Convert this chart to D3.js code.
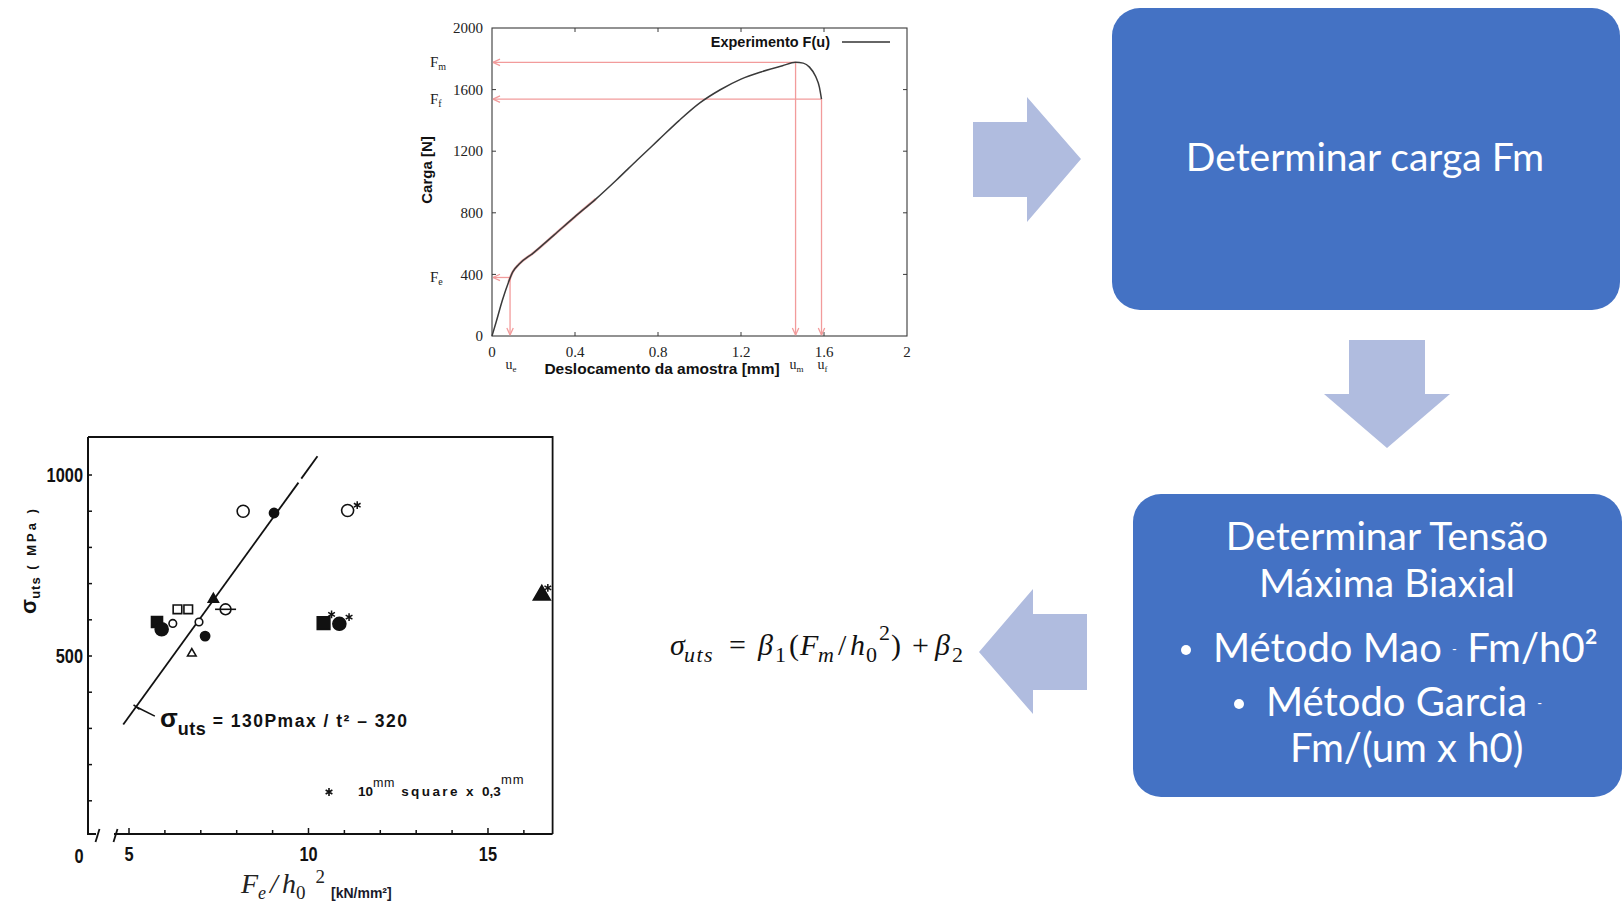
<!DOCTYPE html>
<html>
<head>
<meta charset="utf-8">
<script src="https://cdn.jsdelivr.net/npm/d3@7"></script>
<style>
  body { margin: 0; background: #fff; }
  svg { display: block; }
</style>
</head>
<body>
<svg id="slide" width="1623" height="910"></svg>
<script>
// ---------- Load–displacement curve (u in mm, F in N) ----------
const curveU = [0, 0.02, 0.05, 0.08, 0.1, 0.13, 0.2, 0.3, 0.4, 0.5, 0.6, 0.7, 0.8, 0.9, 1.0, 1.1, 1.2, 1.3, 1.4, 1.463, 1.5, 1.53, 1.56, 1.578, 1.588];
const curveF = [0, 91, 232, 351, 416, 466, 540, 657, 775, 889, 1013, 1143, 1270, 1397, 1512, 1599, 1668, 1716, 1755, 1777, 1772, 1746, 1685, 1615, 1538];
const uTicks = [0, 0.4, 0.8, 1.2, 1.6, 2];
const fTicks = [0, 400, 800, 1200, 1600, 2000];
// characteristic points: elastic (e), maximum (m), fracture (f)
const keyNames = ["e", "m", "f"];
const keyU = [0.087, 1.463, 1.588];
const keyF = [380, 1777, 1538];

// ---------- sigma_uts vs Fe/h0^2 scatter ----------
const ptX = [8.18, 9.04, 11.09, 7.35, 7.69, 6.35, 6.65, 5.78, 5.91, 6.22, 6.95, 7.12, 6.75, 10.42, 10.86, 16.5];
const ptY = [900, 895, 902, 657, 629, 629, 629, 594, 574, 590, 594, 555, 507, 591, 589, 668];
const ptKind = ["openL", "dotM", "openL", "triS", "theta", "sqOpen", "sqOpen", "sqFill", "dotL", "openS", "openS", "dotM", "triOpen", "sqFillL", "dotL", "triL"];
const ptStar = [false, false, true, false, false, false, false, false, false, false, false, false, false, true, true, true];
const fitSolidX = [4.84, 9.72], fitSolidY = [311, 979];
const fitDashX = [9.8, 10.25], fitDashY = [990, 1052];
const sTicksMajor = [500, 1000];
const sTicksMinor = [100, 200, 300, 400, 600, 700, 800, 900];
const pTicks = [5, 6, 7, 8, 9, 10, 11, 12, 13, 14, 15, 16];
const pTickLabels = [5, 10, 15];

const svg = d3.select("#slide");

// ================= Top chart: load vs displacement =================
const xT = d3.scaleLinear().domain([0, 2]).range([492, 907]);
const yT = d3.scaleLinear().domain([0, 2000]).range([336, 28]);
const topG = svg.append("g");
const frameCol = "#3a3a3a";
const redCol = "#f29b9b";

const defs = svg.append("defs");
defs.append("marker").attr("id", "redHead")
  .attr("viewBox", "-8 -5 10 10").attr("markerWidth", 10).attr("markerHeight", 10)
  .attr("markerUnits", "userSpaceOnUse").attr("orient", "auto")
  .append("path").attr("d", "M0,0 L-7,-3.2 M0,0 L-7,3.2")
  .attr("fill", "none").attr("stroke", redCol).attr("stroke-width", 1.3);

// frame
topG.append("rect").attr("x", xT(0)).attr("y", yT(2000))
  .attr("width", xT(2) - xT(0)).attr("height", yT(0) - yT(2000))
  .attr("fill", "none").attr("stroke", frameCol).attr("stroke-width", 1.1);

// inward ticks on all four sides
const tl = 4;
topG.selectAll(".xtb").data(uTicks.slice(1, -1)).join("line")
  .attr("x1", d => xT(d)).attr("x2", d => xT(d)).attr("y1", yT(0)).attr("y2", yT(0) - tl)
  .attr("stroke", frameCol);
topG.selectAll(".xtt").data(uTicks.slice(1, -1)).join("line")
  .attr("x1", d => xT(d)).attr("x2", d => xT(d)).attr("y1", yT(2000)).attr("y2", yT(2000) + tl)
  .attr("stroke", frameCol);
topG.selectAll(".ytl").data(fTicks.slice(1, -1)).join("line")
  .attr("y1", d => yT(d)).attr("y2", d => yT(d)).attr("x1", xT(0)).attr("x2", xT(0) + tl)
  .attr("stroke", frameCol);
topG.selectAll(".ytr").data(fTicks.slice(1, -1)).join("line")
  .attr("y1", d => yT(d)).attr("y2", d => yT(d)).attr("x1", xT(2)).attr("x2", xT(2) - tl)
  .attr("stroke", frameCol);

// tick labels
const serif = "'Liberation Serif', 'Times New Roman', serif";
topG.selectAll(".ytxt").data(fTicks).join("text")
  .attr("x", xT(0) - 9).attr("y", d => yT(d)).attr("dy", "0.35em")
  .attr("text-anchor", "end").attr("font-family", serif).attr("font-size", 15).attr("fill", "#222")
  .text(d => d);
topG.selectAll(".xtxt").data(uTicks).join("text")
  .attr("x", d => xT(d)).attr("y", 357)
  .attr("text-anchor", "middle").attr("font-family", serif).attr("font-size", 15).attr("fill", "#222")
  .text(d => d);

// axis titles
const sansB = "'Liberation Sans', Arial, sans-serif";
topG.append("text").attr("transform", "translate(427,170) rotate(-90)")
  .attr("text-anchor", "middle").attr("dy", "0.35em")
  .attr("font-family", sansB).attr("font-weight", "bold").attr("font-size", 15).attr("fill", "#111")
  .text("Carga [N]");
topG.append("text").attr("x", 662).attr("y", 374).attr("text-anchor", "middle")
  .attr("font-family", sansB).attr("font-weight", "bold").attr("font-size", 15.5).attr("fill", "#111")
  .text("Deslocamento da amostra [mm]");

// legend
topG.append("text").attr("x", 830).attr("y", 46.5).attr("text-anchor", "end")
  .attr("font-family", sansB).attr("font-weight", "bold").attr("font-size", 14.5).attr("fill", "#111")
  .text("Experimento F(u)");
topG.append("line").attr("x1", 842).attr("x2", 890).attr("y1", 42).attr("y2", 42)
  .attr("stroke", "#333").attr("stroke-width", 1.3);

// red guide lines at the characteristic points
keyNames.forEach((k, i) => {
  topG.append("line")
    .attr("x1", xT(keyU[i])).attr("y1", yT(keyF[i]))
    .attr("x2", xT(0) + 1).attr("y2", yT(keyF[i]))
    .attr("stroke", redCol).attr("stroke-width", 1.3).attr("marker-end", "url(#redHead)");
  topG.append("line")
    .attr("x1", xT(keyU[i])).attr("y1", yT(keyF[i]))
    .attr("x2", xT(keyU[i])).attr("y2", yT(0) - 1)
    .attr("stroke", redCol).attr("stroke-width", 1.3).attr("marker-end", "url(#redHead)");
  // F_k label on the left
  const fl = topG.append("text").attr("x", 430).attr("y", yT(keyF[i]) + 5)
    .attr("font-family", serif).attr("font-size", 15).attr("fill", "#222");
  fl.append("tspan").text("F");
  fl.append("tspan").attr("font-size", 10).attr("dy", 3).text(k);
  // u_k label under the axis
  const ul = topG.append("text").attr("x", xT(keyU[i]) + 1).attr("y", 369)
    .attr("text-anchor", "middle")
    .attr("font-family", serif).attr("font-size", 14).attr("fill", "#222");
  ul.append("tspan").text("u");
  ul.append("tspan").attr("font-size", 9).attr("dy", 3).text(k);
});

// measured curve (with faint red linear-fit overlay in the elastic–plastic zone)
const pts = curveU.map((u, i) => ({ u, F: curveF[i] }));
const lineT = d3.line().x(d => xT(d.u)).y(d => yT(d.F)).curve(d3.curveMonotoneX);
topG.append("path").datum(pts.filter(d => d.u >= 0.08 && d.u <= 0.5))
  .attr("d", lineT).attr("fill", "none").attr("stroke", "#f08080").attr("stroke-width", 2.6).attr("opacity", 0.6);
topG.append("path").datum(pts)
  .attr("d", lineT).attr("fill", "none").attr("stroke", "#3a3a3a").attr("stroke-width", 1.5);

// ================= Bottom chart: sigma_uts vs Fe/h0^2 =================
const xB = d3.scaleLinear().domain([5, 16.8]).range([129, 552.6]);
const yB = d3.scaleLinear().domain([0, 1105]).range([837, 437]);
const bot = svg.append("g");
const ink = "#111";
const axisY = 834;

// condensed bold label (narrow typewriter-like figures)
function narrowLabel(x, y, txt, anchor) {
  bot.append("text").attr("transform", `translate(${x},${y}) scale(0.84,1)`)
    .attr("dy", "0.36em").attr("text-anchor", anchor)
    .attr("font-family", sansB).attr("font-weight", "bold").attr("font-size", 19.5).attr("fill", ink)
    .text(txt);
}

// frame: left axis, top, right, broken bottom axis
bot.append("path")
  .attr("d", `M88,${yB(1105)} L88,${axisY} L96,${axisY}`)
  .attr("fill", "none").attr("stroke", ink).attr("stroke-width", 2);
bot.append("path")
  .attr("d", `M88,${yB(1105)} L${xB(16.8)},${yB(1105)} L${xB(16.8)},${axisY}`)
  .attr("fill", "none").attr("stroke", ink).attr("stroke-width", 1.8);
bot.append("line").attr("x1", 114).attr("x2", xB(16.8)).attr("y1", axisY).attr("y2", axisY)
  .attr("stroke", ink).attr("stroke-width", 2);
[98, 116].forEach(x => {
  bot.append("line").attr("x1", x - 2.5).attr("y1", axisY + 8).attr("x2", x + 1.5).attr("y2", axisY - 5)
    .attr("stroke", ink).attr("stroke-width", 1.8);
});

// ticks
bot.selectAll(".bxt").data(pTicks).join("line")
  .attr("x1", d => xB(d)).attr("x2", d => xB(d)).attr("y1", axisY).attr("y2", d => axisY - (d % 5 === 0 ? 6 : 4))
  .attr("stroke", ink).attr("stroke-width", 1.5);
bot.selectAll(".byt").data(sTicksMinor.concat(sTicksMajor)).join("line")
  .attr("y1", d => yB(d)).attr("y2", d => yB(d)).attr("x1", 88).attr("x2", 92)
  .attr("stroke", ink).attr("stroke-width", 1.5);

// tick labels
sTicksMajor.forEach(v => narrowLabel(83, yB(v), v, "end"));
pTickLabels.forEach(v => narrowLabel(xB(v), 854, v, "middle"));
narrowLabel(79, 856, "0", "middle");

// y title
const yTitle = bot.append("text").attr("transform", "translate(30,560) rotate(-90)")
  .attr("text-anchor", "middle").attr("dy", "0.35em")
  .attr("font-family", sansB).attr("font-weight", "bold").attr("fill", ink);
yTitle.append("tspan").attr("font-size", 22).text("σ");
yTitle.append("tspan").attr("font-size", 13).attr("dy", 4).attr("letter-spacing", 1).text("uts");
yTitle.append("tspan").attr("font-size", 13).attr("dy", -4).attr("letter-spacing", 3).text(" ( MPa )");

// x title: Fe / h0^2 [kN/mm²]
const mathFont = "'Liberation Serif', 'DejaVu Serif', serif";
const xTitle = bot.append("text").attr("x", 241).attr("y", 893)
  .attr("font-family", mathFont).attr("font-style", "italic").attr("font-size", 28).attr("fill", "#222");
xTitle.append("tspan").text("F");
xTitle.append("tspan").attr("font-size", 18).attr("dy", 6).text("e");
xTitle.append("tspan").attr("dy", -6).attr("dx", 4).text("/");
xTitle.append("tspan").attr("dx", 4).text("h");
xTitle.append("tspan").attr("font-size", 19).attr("font-style", "normal").attr("dy", 6).text("0");
xTitle.append("tspan").attr("font-size", 19).attr("font-style", "normal").attr("dy", -16).attr("dx", 10).text("2");
bot.append("text").attr("x", 331).attr("y", 898)
  .attr("font-family", sansB).attr("font-weight", "bold").attr("font-size", 14).attr("fill", "#1a1a2a")
  .text("[kN/mm²]");

// regression line (solid, then dashed extension)
bot.append("line")
  .attr("x1", xB(fitSolidX[0])).attr("y1", yB(fitSolidY[0]))
  .attr("x2", xB(fitSolidX[1])).attr("y2", yB(fitSolidY[1]))
  .attr("stroke", ink).attr("stroke-width", 1.8);
bot.append("line")
  .attr("x1", xB(fitDashX[0])).attr("y1", yB(fitDashY[0]))
  .attr("x2", xB(fitDashX[1])).attr("y2", yB(fitDashY[1]))
  .attr("stroke", ink).attr("stroke-width", 1.8);

// leader and equation label
const lead = { x0: 5.21, y0: 359, x1: 5.72, y1: 334 };
bot.append("line").attr("x1", xB(lead.x0)).attr("y1", yB(lead.y0)).attr("x2", xB(lead.x1)).attr("y2", yB(lead.y1))
  .attr("stroke", ink).attr("stroke-width", 1.6);
bot.append("line").attr("x1", xB(lead.x0) - 3).attr("y1", yB(lead.y0) - 2.2).attr("x2", xB(lead.x0) + 3).attr("y2", yB(lead.y0) + 2.2)
  .attr("stroke", ink).attr("stroke-width", 1.6);
const eq = bot.append("text").attr("x", 160).attr("y", 727)
  .attr("font-family", sansB).attr("font-weight", "bold").attr("fill", ink);
eq.append("tspan").attr("font-size", 26).text("σ");
eq.append("tspan").attr("font-size", 18).attr("dy", 8).attr("letter-spacing", 0.5).text("uts");
eq.append("tspan").attr("font-size", 17.5).attr("dy", -8).attr("letter-spacing", 1.5).text(" = 130Pmax / t² – 320");

// markers
const styles = {
  openL:   { type: d3.symbolCircle,   r: 6,   fill: false, sdx: 9.6, sdy: -5.3 },
  openS:   { type: d3.symbolCircle,   r: 3.8, fill: false },
  dotM:    { type: d3.symbolCircle,   r: 4.6, fill: true },
  dotL:    { type: d3.symbolCircle,   r: 6.5, fill: true, sdx: 9.7, sdy: -6.7 },
  triS:    { type: d3.symbolTriangle, r: 4.5, fill: true },
  triOpen: { type: d3.symbolTriangle, r: 3.8, fill: false },
  triL:    { type: d3.symbolTriangle, r: 7.5, fill: true, sdx: 6, sdy: -7.3 },
  sqOpen:  { type: d3.symbolSquare,   r: 4.3, fill: false },
  sqFill:  { type: d3.symbolSquare,   r: 5.5, fill: true },
  sqFillL: { type: d3.symbolSquare,   r: 6.3, fill: true, sdx: 8, sdy: -8.7 },
  theta:   { type: d3.symbolCircle,   r: 5.4, fill: false }
};
function symArea(s) {
  if (s.type === d3.symbolCircle) return Math.PI * s.r * s.r;
  if (s.type === d3.symbolSquare) return (2 * s.r) * (2 * s.r);
  return (2 * s.r) * (2 * s.r) * 0.55;
}
const star = d3.symbol(d3.symbolAsterisk, 42);
ptX.forEach((x, i) => {
  const s = styles[ptKind[i]];
  const cx = xB(x), cy = yB(ptY[i]);
  bot.append("path")
    .attr("transform", `translate(${cx},${cy})`)
    .attr("d", d3.symbol(s.type, symArea(s))())
    .attr("fill", s.fill ? ink : "#fff").attr("stroke", ink).attr("stroke-width", 1.6);
  if (ptKind[i] === "theta") {
    bot.append("line").attr("x1", cx - 10.5).attr("x2", cx + 10.5).attr("y1", cy).attr("y2", cy)
      .attr("stroke", ink).attr("stroke-width", 1.6);
  }
  if (ptStar[i]) {
    bot.append("path")
      .attr("transform", `translate(${cx + s.sdx},${cy + s.sdy})`)
      .attr("d", star())
      .attr("fill", "none").attr("stroke", ink).attr("stroke-width", 1.5);
  }
});

// footnote
bot.append("path").attr("transform", "translate(329,792)")
  .attr("d", star()).attr("fill", "none").attr("stroke", ink).attr("stroke-width", 1.6);
const fn = bot.append("text").attr("x", 358).attr("y", 796)
  .attr("font-family", sansB).attr("font-weight", "bold").attr("font-size", 13.5).attr("fill", ink);
fn.append("tspan").text("10");
fn.append("tspan").attr("font-size", 12.5).attr("dy", -9).attr("font-weight", "normal").attr("letter-spacing", 0.6).text("mm");
fn.append("tspan").attr("dy", 9).attr("letter-spacing", 2.4).text(" square x ");
fn.append("tspan").text("0,3");
fn.append("tspan").attr("font-size", 13).attr("dy", -12).attr("font-weight", "normal").attr("letter-spacing", 1).text("mm");

// ================= Flow diagram: arrows, boxes and formula =================
const arrowCol = "#b0bcdf";
const boxCol = "#4472c4";
const flow = svg.append("g");
const poly = p => "M" + p.map(q => q.join(",")).join("L") + "Z";
flow.append("path").attr("fill", arrowCol)
  .attr("d", poly([[973, 122], [1027, 122], [1027, 97], [1081, 159], [1027, 222], [1027, 197], [973, 197]]));
flow.append("path").attr("fill", arrowCol)
  .attr("d", poly([[1349, 340], [1425, 340], [1425, 394], [1450, 394], [1387, 448], [1324, 394], [1349, 394]]));
flow.append("path").attr("fill", arrowCol)
  .attr("d", poly([[1087, 614], [1033, 614], [1033, 589], [979, 652], [1033, 714], [1033, 690], [1087, 690]]));

flow.append("rect").attr("x", 1112).attr("y", 8).attr("width", 508).attr("height", 302).attr("rx", 28).attr("fill", boxCol);
flow.append("rect").attr("x", 1133).attr("y", 494).attr("width", 489).attr("height", 303).attr("rx", 28).attr("fill", boxCol);

const boxFont = "Lato, 'Open Sans', sans-serif";
flow.append("text").attr("x", 1365).attr("y", 171).attr("text-anchor", "middle")
  .attr("font-family", boxFont).attr("font-size", 39).attr("fill", "#fff").text("Determinar carga Fm");
flow.append("text").attr("x", 1387).attr("y", 550).attr("text-anchor", "middle")
  .attr("font-family", boxFont).attr("font-size", 39).attr("fill", "#fff").text("Determinar Tensão");
flow.append("text").attr("x", 1387).attr("y", 597).attr("text-anchor", "middle")
  .attr("font-family", boxFont).attr("font-size", 39).attr("fill", "#fff").text("Máxima Biaxial");

function bulletLine(bx, tx, y, parts) {
  flow.append("circle").attr("cx", bx).attr("cy", y - 12).attr("r", 5).attr("fill", "#fff");
  const t = flow.append("text").attr("x", tx).attr("y", y)
    .attr("font-family", boxFont).attr("font-size", 40).attr("fill", "#fff");
  parts.forEach(p => {
    const s = t.append("tspan").text(p.t);
    if (p.small) s.attr("font-size", 13).attr("dy", -8);
    if (p.back) s.attr("dy", 8);
  });
}
bulletLine(1186, 1213, 662, [{ t: "Método Mao " }, { t: "-", small: true }, { t: " Fm/h0²", back: true }]);
bulletLine(1239, 1266, 716, [{ t: "Método Garcia " }, { t: "-", small: true }]);
flow.append("text").attr("x", 1290).attr("y", 762)
  .attr("font-family", boxFont).attr("font-size", 40).attr("fill", "#fff").text("Fm/(um x h0)");

// sigma_uts = beta1 (Fm / h0^2) + beta2, each glyph group placed along the baseline
const fBase = 655;
const fm = flow.append("text").attr("y", fBase)
  .attr("font-family", mathFont).attr("font-size", 30).attr("fill", "#111");
const piece = (x, txt, opt = {}) => {
  const s = fm.append("tspan").attr("x", x).text(txt)
    .attr("y", fBase + (opt.sub ? 7 : opt.sup ? -15 : 0))
    .attr("font-size", opt.sub || opt.sup ? 22 : 30);
  if (opt.it) s.attr("font-style", "italic");
  return s;
};
piece(670, "σ", { it: true });
piece(684, "uts", { it: true, sub: true }).attr("letter-spacing", 1.5);
piece(729, "=");
piece(758, "β", { it: true });
piece(775, "1", { sub: true });
piece(789, "(");
piece(800, "F", { it: true });
piece(818, "m", { it: true, sub: true });
piece(838, "/");
piece(850, "h", { it: true });
piece(866, "0", { sub: true });
piece(879, "2", { sup: true });
piece(891, ")");
piece(912, "+");
piece(935, "β", { it: true });
piece(952, "2", { sub: true });
</script>
</body>
</html>
